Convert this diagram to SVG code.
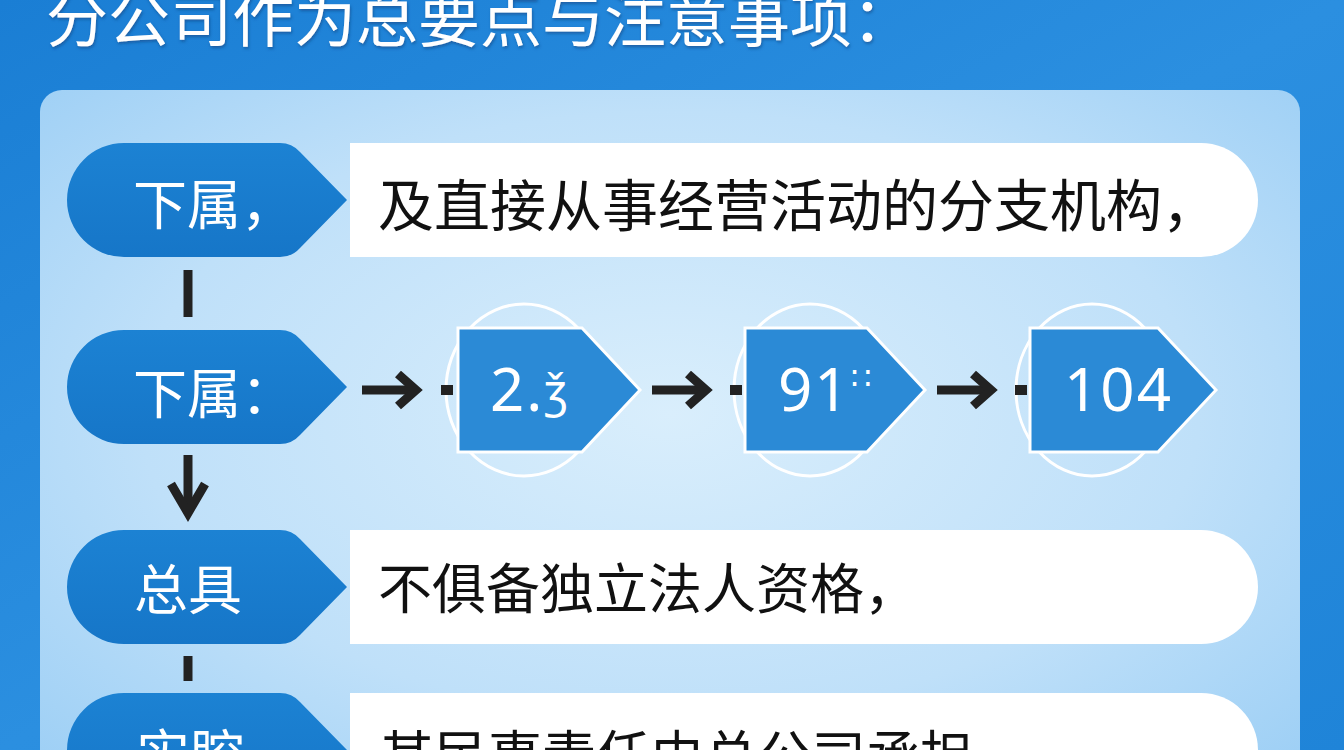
<svg xmlns="http://www.w3.org/2000/svg" width="1344" height="750" viewBox="0 0 1344 750">
<defs>
<linearGradient id="bg" x1="0" y1="0" x2="1" y2="1">
<stop offset="0" stop-color="#1a7ed4"/>
<stop offset="0.5" stop-color="#2b8fe0"/>
<stop offset="1" stop-color="#1f84d8"/>
</linearGradient>
<radialGradient id="panel" cx="0.5" cy="0.45" r="0.7">
<stop offset="0" stop-color="#d9eefc"/>
<stop offset="0.6" stop-color="#bfe0f9"/>
<stop offset="1" stop-color="#9dcff5"/>
</radialGradient>
<linearGradient id="lbl" x1="0" y1="0" x2="0" y2="1">
<stop offset="0" stop-color="#1c82d3"/>
<stop offset="1" stop-color="#1676c8"/>
</linearGradient>
<filter id="sh" x="-5%" y="-20%" width="110%" height="150%">
<feDropShadow dx="1" dy="2" stdDeviation="1.5" flood-color="#0a3f7a" flood-opacity="0.55"/>
</filter>
</defs>
<style>
.lbl{fill:url(#lbl);}
.box{fill:#ffffff;}
.lt{font-family:"Noto Sans CJK SC","Noto Sans",sans-serif;font-size:54px;fill:#ffffff;}
.bt{font-family:"Noto Sans CJK SC","Noto Sans",sans-serif;font-size:54px;fill:#111111;}
.pent{fill:#2b8ad6;stroke:#ffffff;stroke-width:3;stroke-linejoin:miter;}
.ring{fill:none;stroke:#ffffff;stroke-width:3;}
.num{font-family:"Noto Sans","Open Sans",sans-serif;font-size:60px;fill:#ffffff;letter-spacing:2px;}
.ln{stroke:#222222;stroke-width:9;fill:none;}
.ah{stroke:#222222;stroke-width:9;fill:none;stroke-linejoin:miter;}
</style>
<rect x="0" y="0" width="1344" height="750" fill="url(#bg)"/>
<text x="46" y="42" font-family="'Noto Sans CJK SC',sans-serif" font-size="62" fill="#ffffff" filter="url(#sh)">分公司作为总要点与注意事项：</text>
<rect x="40" y="90" width="1260" height="720" rx="22" fill="url(#panel)"/>

<g id="row1">
<path class="lbl" d="M124 143 H280 Q292 143 300 152 L347 200 L300 248 Q292 257 280 257 H124 A57 57 0 0 1 124 143 Z"/>
<text class="lt" x="133" y="225">下属，</text>
<path class="box" d="M350 143 H1201 A57 57 0 0 1 1201 257 H350 Z"/>
<text class="bt" x="378" y="226" style="font-size:56px">及直接从事经营活动的分支机构，</text>
</g>

<g id="row2">
<path class="lbl" d="M124 330 H280 Q292 330 300 339 L347 387 L300 435 Q292 444 280 444 H124 A57 57 0 0 1 124 330 Z"/>
<text class="lt" x="133" y="414">下属：</text>
</g>

<g id="step1">
<ellipse class="ring" cx="524" cy="390" rx="78" ry="86"/>
<path class="pent" d="M458 328 H582 L640 390 L582 452 H458 Z"/>
<text class="num" x="490" y="411">2.<tspan font-size="46" dy="-4">ǯ</tspan></text>
</g>
<g id="step2">
<ellipse class="ring" cx="810" cy="390" rx="76" ry="86"/>
<path class="pent" d="M745 328 H867 L925 390 L867 452 H745 Z"/>
<text class="num" x="778" y="411">91<tspan font-size="32" dy="-22">∷</tspan></text>
</g>
<g id="step3">
<ellipse class="ring" cx="1092" cy="390" rx="76" ry="86"/>
<path class="pent" d="M1030 328 H1158 L1216 390 L1158 452 H1030 Z"/>
<text class="num" x="1064" y="411">104</text>
</g>

<g id="row3">
<path class="lbl" d="M124 530 H280 Q292 530 300 539 L347 587 L300 635 Q292 644 280 644 H124 A57 57 0 0 1 124 530 Z"/>
<text class="lt" x="188" y="610" text-anchor="middle">总具</text>
<path class="box" d="M350 530 H1201 A57 57 0 0 1 1201 644 H350 Z"/>
<text class="bt" x="378" y="609">不俱备独立法人资格，</text>
</g>

<g id="row4">
<path class="lbl" d="M124 693 H280 Q292 693 300 702 L347 750 L300 798 Q292 807 280 807 H124 A57 57 0 0 1 124 693 Z"/>
<text class="lt" x="190" y="775" text-anchor="middle">实腔</text>
<path class="box" d="M350 693 H1201 A57 57 0 0 1 1201 807 H350 Z"/>
<text class="bt" x="380" y="776">其民事责任由总公司承担</text>
</g>

<g id="connectors">
<line class="ln" x1="188" y1="270" x2="188" y2="317"/>
<line class="ln" x1="188" y1="455" x2="188" y2="510"/>
<polyline class="ah" points="171,484 188,513 205,484"/>
<line class="ln" x1="188" y1="656" x2="188" y2="681"/>
<line class="ln" x1="362" y1="390" x2="414" y2="390"/>
<polyline class="ah" points="398,374 416,390 398,406"/>
<rect x="441" y="385" width="12" height="10" fill="#222"/>
<line class="ln" x1="652" y1="390" x2="704" y2="390"/>
<polyline class="ah" points="688,374 706,390 688,406"/>
<rect x="730" y="385" width="12" height="10" fill="#222"/>
<line class="ln" x1="937" y1="390" x2="989" y2="390"/>
<polyline class="ah" points="973,374 991,390 973,406"/>
<rect x="1015" y="385" width="12" height="10" fill="#222"/>
</g>
</svg>
